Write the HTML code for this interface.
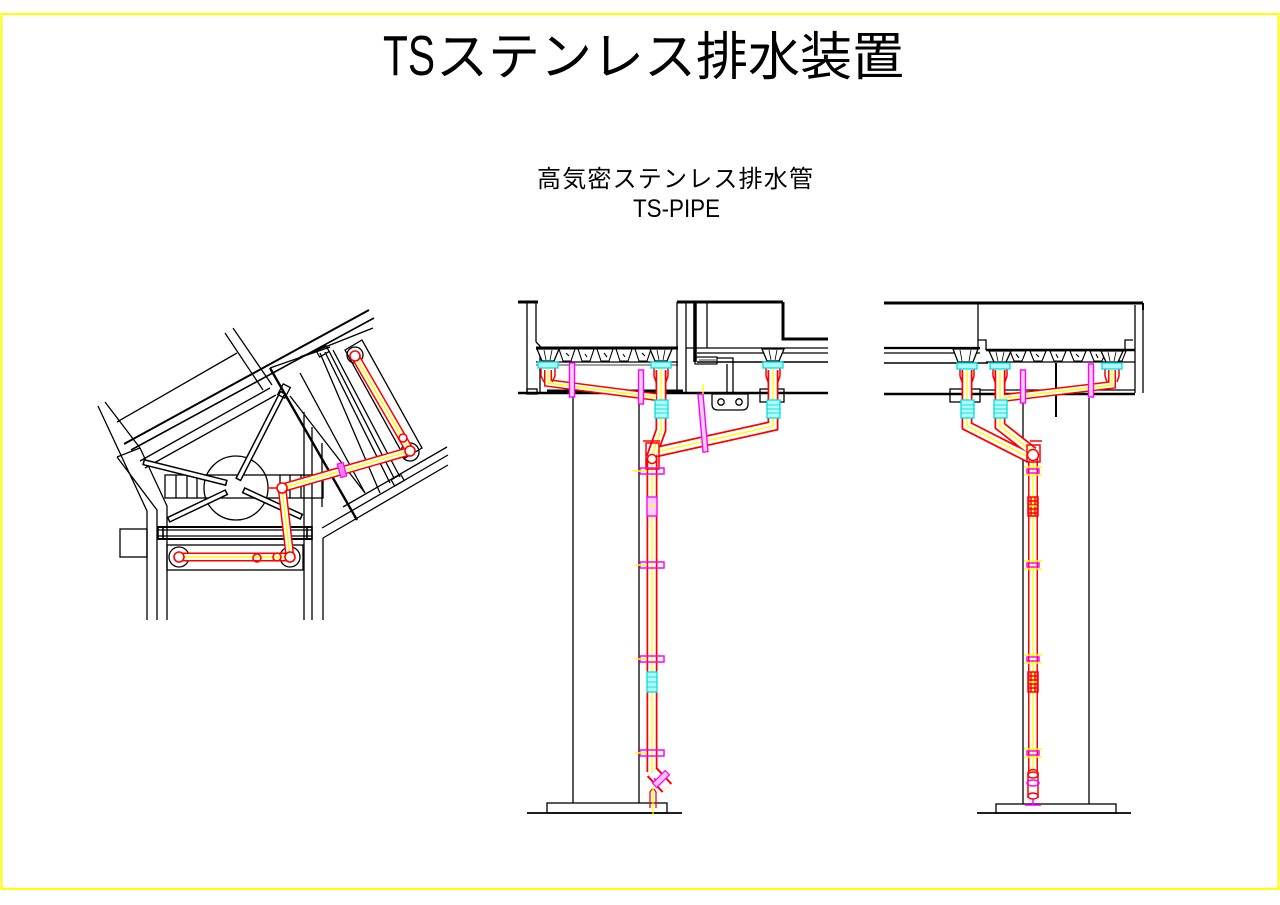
<!DOCTYPE html>
<html>
<head>
<meta charset="utf-8">
<style>
html,body{margin:0;padding:0;background:#fff;}
body{width:1280px;height:905px;overflow:hidden;position:relative;}
svg{position:absolute;left:0;top:0;}
.t{font-family:"Liberation Sans","Noto Sans CJK JP",sans-serif;fill:#000;}
.j{font-family:"Noto Sans CJK JP","Liberation Sans",sans-serif;fill:#000;}
</style>
</head>
<body>
<svg width="1280" height="905" viewBox="0 0 1280 905" xmlns="http://www.w3.org/2000/svg">
<defs>
 <path id="m1" d="M652,458 L652,772"/>
 <path id="m2" d="M661,370 L661,430 L651,458"/>
 <path id="m4" d="M773,370 L773,426 L656,452"/>
 <path id="r1" d="M967,370 L967,426 L1030,458"/>
 <path id="r2" d="M1000,370 L1000,426 L1033,452"/>
 <path id="r4" d="M1033,455 L1033,772"/>
 <path id="m3" d="M548,370 L548,383 L656,397"/>
 <path id="r3" d="M1112,370 L1112,385 L1003,398"/>
 <path id="pl" d="M355,356 L410,451 L282,488 L290,557 L179,557"/>
</defs>

<!-- border -->
<rect x="1.5" y="14" width="1277" height="875" fill="none" stroke="#ffff00" stroke-width="2"/>

<!-- titles -->
<text class="t" x="383" y="75" font-size="57" textLength="52" lengthAdjust="spacingAndGlyphs">TS</text>
<text class="j" x="436" y="75" font-size="52" textLength="468" lengthAdjust="spacing">ステンレス排水装置</text>
<text class="j" x="537" y="187" font-size="24" textLength="276" lengthAdjust="spacing">高気密ステンレス排水管</text>
<text class="t" x="633" y="217" font-size="25" textLength="87" lengthAdjust="spacingAndGlyphs">TS-PIPE</text>

<!-- ================= PLAN VIEW (left) ================= -->
<g fill="none" stroke="#000" stroke-width="1.3" stroke-linecap="butt">
 <!-- left wing -->
 <polyline points="98,406 147,511 147,620"/>
 <polyline points="105,402 140,448"/>
 <polyline points="117,457 140,448"/>
 <polyline points="117,457 157,510 157,620"/>
 <polyline points="140,448 167,506 167,620"/>
 <!-- long walls parallel to wing -->
 <line x1="117" y1="422" x2="237" y2="353"/>
 <line x1="124" y1="444" x2="369" y2="310" stroke-width="2"/>
 <line x1="131" y1="450" x2="374" y2="318" stroke-width="1.6"/>
 <line x1="140" y1="461" x2="270" y2="388"/>
 <line x1="145" y1="468" x2="276" y2="395"/>
 <line x1="270" y1="368" x2="330" y2="347"/>
 <line x1="300" y1="357" x2="373" y2="328"/>
 <!-- short perpendicular -->
 <line x1="225" y1="333" x2="263" y2="390"/>
 <line x1="233" y1="328" x2="272" y2="385"/>
 <!-- perpendicular lines of wing -->
 <line x1="270" y1="368" x2="357" y2="520" stroke-width="2.4"/>
 <line x1="290" y1="396" x2="365" y2="493"/>
 <line x1="300" y1="373" x2="365" y2="493"/>
 <line x1="320" y1="353" x2="380" y2="493"/>
 <line x1="325" y1="352" x2="390" y2="483"/>
 <line x1="329" y1="351" x2="394" y2="478"/>
 <line x1="333" y1="350" x2="400" y2="477"/>
 <rect x="317" y="348" width="11" height="7" transform="rotate(-30 322 351)"/>
 <rect x="392" y="477" width="11" height="7" transform="rotate(-30 397 480)"/>
 <!-- housing around pipe -->
 <polygon points="345,350 362,340 422,448 405,458"/>
 <line x1="343" y1="507" x2="447" y2="447"/>
 <line x1="322" y1="528" x2="448" y2="455"/>
 <line x1="323" y1="538" x2="448" y2="465"/>
 <!-- right verticals of left wing -->
 <line x1="304" y1="412" x2="304" y2="620"/>
 <line x1="312" y1="427" x2="312" y2="620"/>
 <line x1="323" y1="538" x2="323" y2="620"/>
 <line x1="322" y1="443" x2="322" y2="507"/>
 <!-- big circle -->
 <circle cx="236" cy="488" r="32"/>
 <!-- grating rect -->
 <rect x="165" y="475" width="158" height="23"/>
 <line x1="176" y1="475" x2="176" y2="498"/>
 <line x1="187" y1="475" x2="187" y2="498"/>
 <line x1="197" y1="475" x2="197" y2="498"/>
 <line x1="280" y1="475" x2="280" y2="498"/>
 <line x1="290" y1="475" x2="290" y2="498"/>
 <line x1="301" y1="475" x2="301" y2="498"/>
 <!-- horizontal band -->
 <line x1="157" y1="527" x2="312" y2="527" stroke-width="2"/>
 <line x1="157" y1="530" x2="312" y2="530"/>
 <line x1="157" y1="536" x2="312" y2="536"/>
 <line x1="157" y1="539" x2="312" y2="539" stroke-width="2"/>
 <rect x="158" y="527" width="5" height="12" stroke-width="1.6"/>
 <rect x="307" y="527" width="5" height="12" stroke-width="1.6"/>
 <!-- left box -->
 <rect x="120" y="529" width="27" height="28"/>
 <!-- pipe box -->
 <rect x="167" y="545" width="136" height="25"/>
 <circle cx="179" cy="557" r="10"/>
 <circle cx="290" cy="557" r="10"/>
 <circle cx="355" cy="355" r="8"/>
 <circle cx="410" cy="452" r="9"/>
</g>
<!-- struts (outlined bars) -->
<g fill="none" stroke-linecap="butt">
 <g stroke="#000" stroke-width="6.5">
  <line x1="238" y1="480" x2="283" y2="392"/>
  <line x1="143" y1="462" x2="227" y2="483"/>
  <line x1="168" y1="520" x2="227" y2="492"/>
  <line x1="243" y1="490" x2="302" y2="517"/>
 </g>
 <g stroke="#fff" stroke-width="3.5">
  <line x1="238.7" y1="478.7" x2="282.3" y2="393.3"/>
  <line x1="144.5" y1="462.4" x2="225.5" y2="482.6"/>
  <line x1="169.4" y1="519.4" x2="225.6" y2="492.6"/>
  <line x1="244.4" y1="490.6" x2="300.6" y2="516.4"/>
 </g>
</g>
<rect x="278" y="387" width="12" height="8" fill="none" stroke="#000" stroke-width="1.3" transform="rotate(-62 284 391)"/>

<!-- plan pipe -->
<g fill="none" stroke-linejoin="round">
 <use href="#pl" stroke="#ff0000" stroke-width="9"/>
 <use href="#pl" stroke="#ffffff" stroke-width="6"/>
 <use href="#pl" stroke="#ffff00" stroke-width="1.5"/>
</g>
<g fill="#fff" stroke="#ff0000" stroke-width="1.6">
 <circle cx="355" cy="356" r="5"/>
 <circle cx="410" cy="451" r="5"/>
 <circle cx="403" cy="438" r="4"/>
 <circle cx="282" cy="488" r="5"/>
 <circle cx="290" cy="557" r="5"/>
 <circle cx="179" cy="557" r="5"/>
 <circle cx="257" cy="558" r="4" fill="none"/>
 <circle cx="277" cy="557" r="4" fill="none"/>
</g>
<line x1="268" y1="488" x2="277" y2="488" stroke="#ff0000" stroke-width="1.5"/>
<rect x="339" y="463" width="6" height="14" fill="#ff80ff" stroke="#ff00ff" stroke-width="1.2" transform="rotate(-15 342 470)"/>

<!-- ================= MIDDLE ELEVATION ================= -->
<g fill="none" stroke="#000" stroke-width="1.3">
 <!-- left wall -->
 <line x1="518" y1="302" x2="538" y2="302" stroke-width="3"/>
 <line x1="527" y1="302" x2="527" y2="393"/>
 <line x1="536" y1="302" x2="536" y2="342"/>
 <polyline points="536,342 540,346 540,393"/>
 <!-- deck -->
 <line x1="536" y1="348" x2="678" y2="348" stroke-width="3"/>
 <line x1="536" y1="362" x2="678" y2="362"/>
 <line x1="536" y1="365" x2="678" y2="365" stroke-width="0.8"/>
 <!-- bottom lines -->
 <line x1="518" y1="393" x2="828" y2="393" stroke-width="2.5"/>
 <rect x="547" y="389.5" width="136" height="3" fill="#000" stroke="none"/>
 <rect x="527" y="389" width="10" height="5"/>
 <!-- right structure -->
 <line x1="677" y1="302" x2="783" y2="302" stroke-width="3"/>
 <line x1="677" y1="302" x2="677" y2="393"/>
 <line x1="686" y1="302" x2="686" y2="393"/>
 <line x1="695" y1="302" x2="695" y2="362" stroke-width="3.5"/>
 <line x1="707" y1="302" x2="707" y2="348"/>
 <polyline points="783,302 783,339 828,339" stroke-width="3"/>
 <line x1="686" y1="348" x2="828" y2="348"/>
 <line x1="697" y1="353" x2="828" y2="353"/>
 <line x1="697" y1="362" x2="828" y2="362" stroke-width="1.6"/>
 <!-- bracket -->
 <rect x="695" y="357" width="22" height="7" stroke-width="1.2"/>
 <line x1="699" y1="360" x2="716" y2="360" stroke-width="0.8"/>
 <polyline points="717,358 733,358 733,393"/>
 <line x1="727" y1="364" x2="727" y2="393"/>
 <path d="M712,394 L748,394 L748,404 Q748,410 742,410 L718,410 Q712,410 712,404 Z"/>
 <circle cx="721" cy="402" r="3.2"/>
 <circle cx="739" cy="402" r="3.2"/>
 <rect x="760" y="389" width="24" height="13"/>
 <!-- column -->
 <line x1="573" y1="395" x2="573" y2="803"/>
 <line x1="639" y1="398" x2="639" y2="803"/>
 <rect x="547" y="803" width="120" height="10"/>
 <line x1="527" y1="813" x2="682" y2="813" stroke-width="1.8"/>
</g>
<!-- deck ribs middle -->
<g fill="none" stroke="#000" stroke-width="1.1">
 <polygon points="540,349 556,349 552,361 544,361"/>
 <polygon points="559,349 575,349 571,361 563,361"/>
 <polygon points="578,349 594,349 590,361 582,361"/>
 <polygon points="597,349 613,349 609,361 601,361"/>
 <polygon points="616,349 632,349 628,361 620,361"/>
 <polygon points="635,349 651,349 647,361 639,361"/>
 <polygon points="654,349 670,349 666,361 658,361"/>
 <path d="M546,353 l3,4 M566,353 l3,3 M585,354 l2,3 M604,353 l3,4 M623,354 l2,3 M642,353 l3,3"/>
</g>
<!-- drain funnels middle -->
<g fill="#fff" stroke="#000" stroke-width="1.3">
 <polygon points="537,349 559,349 554,361 542,361"/>
 <polygon points="650,349 672,349 667,361 655,361"/>
 <polygon points="762,349 784,349 779,361 767,361"/>
</g>
<g fill="none" stroke="#000" stroke-width="0.8">
 <path d="M544,350 l2,10 M552,350 l-2,10 M657,350 l2,10 M665,350 l-2,10 M769,350 l2,10 M777,350 l-2,10"/>
</g>

<!-- middle pipes -->
<g fill="none" stroke-linejoin="miter">
 <g stroke="#ff0000" stroke-width="11">
  <use href="#m1"/><use href="#m2"/><use href="#m4"/>
 </g>
 <use href="#m3" stroke="#ff0000" stroke-width="8"/>
 <g stroke="#ffffff" stroke-width="7.5">
  <use href="#m1"/><use href="#m2"/><use href="#m4"/>
 </g>
 <use href="#m3" stroke="#ffffff" stroke-width="5"/>
 <g stroke="#ffff00" stroke-width="1.4">
  <use href="#m1"/><use href="#m2"/><use href="#m4"/><use href="#m3"/>
 </g>
</g>
<!-- drain heads middle -->
<g fill="none" stroke="#ff0000" stroke-width="1.5">
 <path d="M541,368 L541,376 L544,382 M555,368 L555,376 L552,382"/>
 <path d="M654,368 L654,376 L656,382 M668,368 L668,376 L666,382"/>
 <path d="M766,368 L766,376 L768,382 M780,368 L780,376 L778,382"/>
 <line x1="643" y1="441" x2="660" y2="441"/>
 <rect x="646" y="443" width="13" height="26"/>
 <circle cx="652" cy="459" r="4.5" fill="#fff"/>
 <line x1="652" y1="772" x2="667" y2="788" stroke-width="14"/>
</g>
<line x1="652" y1="772" x2="667" y2="788" stroke="#fff" stroke-width="10"/>
<line x1="654" y1="779" x2="663" y2="782" stroke="#ff00ff" stroke-width="2"/>
<rect x="658" y="770" width="6" height="18" fill="#ffc0ff" stroke="#ff00ff" stroke-width="1.2" transform="rotate(45 661 779)"/>
<g fill="none" stroke="#ff0000" stroke-width="1.3">
 <path d="M650,792 L650,808 M656,792 L656,808 M650,792 Q653,786 656,792"/>
</g>
<line x1="653" y1="786" x2="653" y2="815" stroke="#ffff00" stroke-width="1.2"/>
<g fill="#b0ffff" stroke="#00e0e0" stroke-width="1.3">
 <rect x="538" y="362" width="20" height="6"/>
 <rect x="651" y="362" width="20" height="6"/>
 <rect x="763" y="362" width="20" height="6"/>
 <rect x="655" y="400" width="13" height="18"/>
 <rect x="767" y="400" width="13" height="18"/>
 <rect x="647" y="672" width="10" height="20"/>
</g>
<g stroke="#00c8c8" stroke-width="0.8">
 <path d="M655,405 h13 M655,409 h13 M655,413 h13 M767,405 h13 M767,409 h13 M767,413 h13 M647,677 h10 M647,682 h10 M647,687 h10"/>
</g>
<!-- magenta hangers middle -->
<g fill="#ffd0ff" stroke="#ff00ff" stroke-width="1.4">
 <rect x="569.5" y="363" width="5" height="34"/>
 <rect x="638.5" y="370" width="5" height="34"/>
 <rect x="700.5" y="394" width="5" height="58" transform="rotate(-5 703 423)"/>
 <rect x="647" y="497" width="10" height="19"/>
</g>
<g fill="none" stroke="#ff00ff" stroke-width="1.5">
 <rect x="640" y="468" width="24" height="6"/>
 <rect x="640" y="562" width="24" height="6"/>
 <rect x="640" y="656" width="24" height="6"/>
 <rect x="640" y="750" width="24" height="6"/>
</g>
<g stroke="#ffff00" stroke-width="1.4">
 <path d="M633,471 h14 M635,565 h12 M635,659 h12 M635,753 h12 M703,384 v10 M648,506 h8"/>
</g>

<!-- ================= RIGHT ELEVATION ================= -->
<g fill="none" stroke="#000" stroke-width="1.3">
 <line x1="884" y1="303" x2="1143" y2="303" stroke-width="3"/>
 <line x1="978" y1="303" x2="978" y2="350"/>
 <line x1="1135" y1="305" x2="1135" y2="393"/>
 <line x1="1143" y1="303" x2="1143" y2="310" stroke-width="2"/>
 <line x1="1143" y1="310" x2="1143" y2="393"/>
 <line x1="884" y1="348" x2="980" y2="348" stroke-width="2.2"/>
 <line x1="884" y1="353" x2="980" y2="353"/>
 <line x1="884" y1="363" x2="988" y2="363" stroke-width="1.6"/>
 <polyline points="978,340 986,340 986,350"/>
 <line x1="986" y1="350" x2="1135" y2="350" stroke-width="2.4"/>
 <line x1="986" y1="362" x2="1135" y2="362"/>
 <polyline points="1125,350 1125,340 1133,340"/>
 <line x1="884" y1="394" x2="1135" y2="394" stroke-width="2.5"/>
 <line x1="980" y1="390" x2="1135" y2="390"/>
 <rect x="950" y="389" width="30" height="13"/>
 <line x1="1056" y1="363" x2="1056" y2="417" stroke-width="2"/>
 <line x1="1023" y1="398" x2="1023" y2="804"/>
 <line x1="1089" y1="398" x2="1089" y2="804"/>
 <rect x="996" y="804" width="120" height="9"/>
 <line x1="977" y1="813" x2="1131" y2="813" stroke-width="1.8"/>
</g>
<g fill="none" stroke="#000" stroke-width="1.1">
 <polygon points="990,351 1006,351 1002,361 994,361"/>
 <polygon points="1010,351 1026,351 1022,361 1014,361"/>
 <polygon points="1030,351 1046,351 1042,361 1034,361"/>
 <polygon points="1050,351 1066,351 1062,361 1054,361"/>
 <polygon points="1070,351 1086,351 1082,361 1074,361"/>
 <polygon points="1090,351 1106,351 1102,361 1094,361"/>
 <polygon points="1110,351 1126,351 1122,361 1114,361"/>
 <path d="M1016,354 l3,4 M1036,354 l3,3 M1056,354 l2,4 M1076,354 l3,3 M1096,354 l2,4"/>
</g>
<g fill="#fff" stroke="#000" stroke-width="1.3">
 <polygon points="953,349 978,349 973,362 958,362"/>
 <polygon points="989,351 1011,351 1006,362 994,362"/>
 <polygon points="1101,351 1123,351 1118,362 1106,362"/>
</g>
<g fill="none" stroke="#000" stroke-width="0.8">
 <path d="M960,350 l2,11 M971,350 l-2,11 M996,352 l2,9 M1004,352 l-2,9 M1108,352 l2,9 M1116,352 l-2,9"/>
</g>
<!-- right pipes -->
<g fill="none" stroke-linejoin="miter">
 <g stroke="#ff0000" stroke-width="11">
  <use href="#r1"/><use href="#r2"/>
 </g>
 <use href="#r4" stroke="#ff0000" stroke-width="10"/>
 <use href="#r3" stroke="#ff0000" stroke-width="8"/>
 <g stroke="#ffffff" stroke-width="7.5">
  <use href="#r1"/><use href="#r2"/>
 </g>
 <use href="#r4" stroke="#ffffff" stroke-width="7"/>
 <use href="#r3" stroke="#ffffff" stroke-width="5"/>
 <g stroke="#ffff00" stroke-width="1.4">
  <use href="#r1"/><use href="#r2"/><use href="#r4"/><use href="#r3"/>
 </g>
</g>
<g fill="none" stroke="#ff0000" stroke-width="1.5">
 <path d="M960,368 L960,376 L962,382 M974,368 L974,376 L972,382"/>
 <path d="M993,368 L993,376 L995,382 M1007,368 L1007,376 L1005,382"/>
 <path d="M1105,368 L1105,376 L1107,382 M1119,368 L1119,376 L1117,382"/>
 <rect x="1027" y="445" width="13" height="17"/>
 <circle cx="1033" cy="455" r="5.5" fill="#fff"/>
 <line x1="1030" y1="441" x2="1042" y2="441"/>
 <rect x="1028" y="497" width="10" height="19"/>
 <rect x="1028" y="672" width="10" height="20"/>
 <path d="M1028,501 h10 M1028,505 h10 M1028,509 h10 M1028,513 h10 M1031,497 v19 M1035,497 v19"/>
 <path d="M1028,676 h10 M1028,680 h10 M1028,684 h10 M1028,688 h10 M1031,672 v20 M1035,672 v20"/>
 <path d="M1028,772 L1028,798 M1038,772 L1038,798 M1028,772 Q1033,767 1038,772"/>
 <ellipse cx="1033" cy="775" rx="5" ry="3"/>
 <ellipse cx="1033" cy="796" rx="5" ry="3"/>
</g>
<g fill="#b0ffff" stroke="#00e0e0" stroke-width="1.3">
 <rect x="957" y="363" width="20" height="6"/>
 <rect x="990" y="363" width="20" height="6"/>
 <rect x="1102" y="363" width="20" height="6"/>
 <rect x="961" y="400" width="13" height="18"/>
 <rect x="994" y="400" width="13" height="18"/>
</g>
<g stroke="#00c8c8" stroke-width="0.8">
 <path d="M961,405 h13 M961,409 h13 M961,413 h13 M994,405 h13 M994,409 h13 M994,413 h13"/>
</g>
<g fill="#ffd0ff" stroke="#ff00ff" stroke-width="1.4">
 <rect x="1020.5" y="370" width="5" height="33"/>
 <rect x="1088.5" y="364" width="5" height="33"/>
</g>
<g fill="none" stroke="#ff00ff" stroke-width="1.5">
 <rect x="1027" y="469" width="12" height="4"/>
 <rect x="1027" y="563" width="12" height="4"/>
 <rect x="1027" y="657" width="12" height="4"/>
 <rect x="1027" y="751" width="12" height="4"/>
 <ellipse cx="1033" cy="783" rx="6" ry="3"/>
 <path d="M1033,798 v7 M1025,805 h16"/>
</g>
<g stroke="#ffff00" stroke-width="1.4">
 <path d="M1024,467 h18 M1024,475 h18 M1024,561 h18 M1024,569 h18 M1024,655 h18 M1024,663 h18 M1024,749 h18 M1024,757 h18 M1029,506 h8 M1029,682 h8"/>
</g>
</svg>
</body>
</html>
